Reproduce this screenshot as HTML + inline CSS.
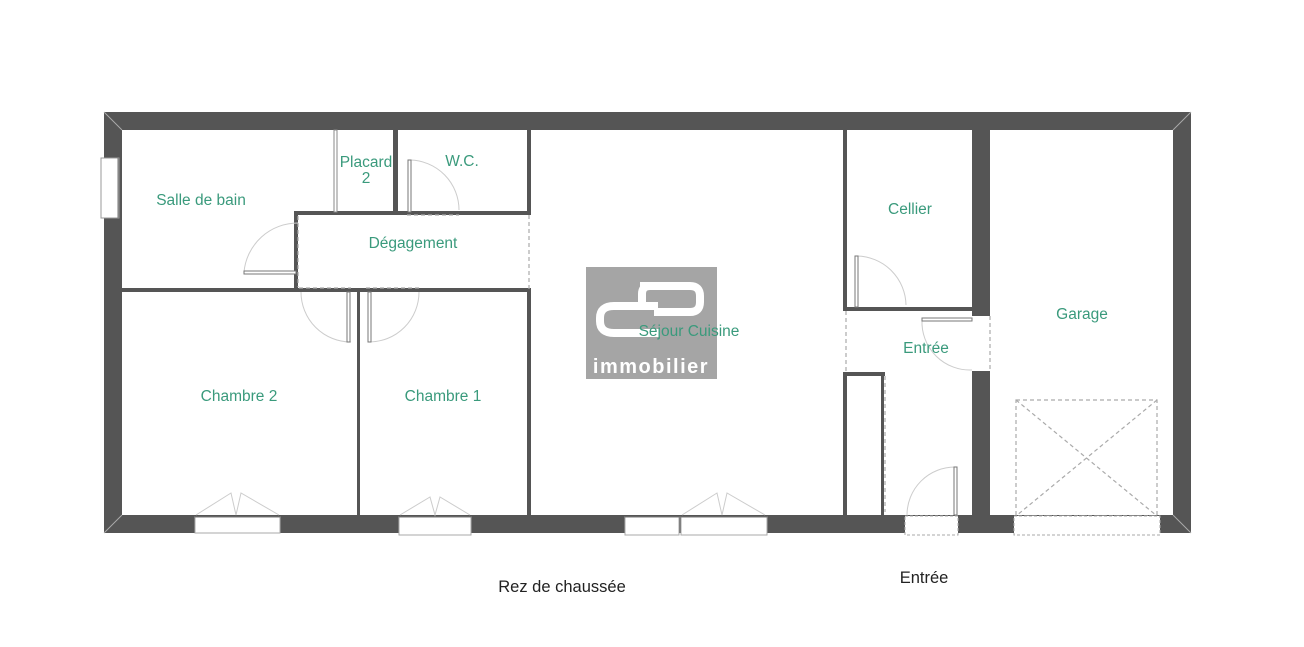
<!DOCTYPE html>
<html><head><meta charset="utf-8"><style>
html,body{margin:0;padding:0;background:#fff;}
svg{display:block;}
text{font-family:"Liberation Sans",Arial,sans-serif;}
</style></head><body>
<svg width="1304" height="647" viewBox="0 0 1304 647" xmlns="http://www.w3.org/2000/svg">
<path d="M104,112 H1191 V533 H104 Z M122,130 V515 H1173 V130 Z" fill="#555" fill-rule="evenodd"/>
<g stroke="#aaa" stroke-width="1" fill="none">
<line x1="104" y1="112" x2="122" y2="130"/><line x1="1191" y1="112" x2="1173" y2="130"/>
<line x1="104" y1="533" x2="122" y2="515"/><line x1="1191" y1="533" x2="1173" y2="515"/>
</g>
<g fill="#555">
<rect x="393" y="130" width="5" height="84"/>
<rect x="527" y="130" width="4" height="84"/>
<rect x="527" y="289" width="4" height="226"/>
<rect x="294" y="211" width="237" height="4"/>
<rect x="294" y="211" width="4" height="81"/>
<rect x="122" y="288" width="409" height="4"/>
<rect x="357" y="288" width="3" height="227"/>
<rect x="843" y="130" width="4" height="181"/>
<rect x="843" y="307" width="129" height="4"/>
<rect x="972" y="130" width="18" height="186"/>
<rect x="972" y="371" width="18" height="144"/>
<rect x="843" y="372" width="42" height="4"/>
<rect x="843" y="372" width="4" height="143"/>
<rect x="881" y="372" width="3" height="143"/>
</g>
<rect x="334" y="130" width="3" height="82" fill="#fff" stroke="#888" stroke-width="1"/>
<g stroke="#aaa" stroke-width="1.2" stroke-dasharray="4,3" fill="none">
<line x1="529" y1="215" x2="529" y2="289"/>
<line x1="846" y1="311" x2="846" y2="372"/>
<line x1="298" y1="216" x2="298" y2="287"/>
<line x1="299" y1="288" x2="351" y2="288"/>
<line x1="366" y1="288" x2="419" y2="288"/>
<line x1="407" y1="215" x2="459" y2="215"/>
<line x1="885" y1="376" x2="885" y2="512"/>
<line x1="990" y1="316" x2="990" y2="371"/>
<rect x="1016" y="400" width="141" height="116"/>
<line x1="1016" y1="400" x2="1157" y2="516"/><line x1="1157" y1="400" x2="1016" y2="516"/>
</g>
<g stroke="#ccc" stroke-width="1" fill="none">
<path d="M298,223 A54,54 0 0 0 244,272"/>
<path d="M301,292 A50,50 0 0 0 351,342"/>
<path d="M419,292 A50,50 0 0 1 369,342"/>
<path d="M410,160 A50,50 0 0 1 459,210"/>
<path d="M857,256 A50,50 0 0 1 906,305"/>
<path d="M922,320 A48,48 0 0 0 972,370"/>
<path d="M955,467 A48,48 0 0 0 907,515"/>
</g>
<g fill="#fff" stroke="#777" stroke-width="1">
<rect x="244" y="271" width="52" height="3"/>
<rect x="347" y="292" width="3" height="50"/>
<rect x="368" y="292" width="3" height="50"/>
<rect x="408" y="160" width="3" height="52"/>
<rect x="855" y="256" width="3" height="51"/>
<rect x="922" y="318" width="50" height="3"/>
<rect x="954" y="467" width="3" height="48"/>
</g>
<rect x="101" y="158" width="18" height="60" fill="#fff" stroke="#999" stroke-width="1"/>
<line x1="118" y1="158" x2="118" y2="218" stroke="#777"/>
<g fill="#fff" stroke="#aaa" stroke-width="1">
<rect x="195" y="517" width="85" height="16"/>
<rect x="399" y="517" width="72" height="18"/>
<rect x="625" y="517" width="54" height="18"/>
<rect x="681" y="517" width="86" height="18"/>
<rect x="905" y="516" width="53" height="19" stroke-dasharray="3,2"/>
<rect x="1014" y="516" width="146" height="19" stroke-dasharray="3,2"/>
</g>
<g stroke="#777" stroke-width="1">
<line x1="195" y1="517" x2="280" y2="517"/><line x1="399" y1="517" x2="471" y2="517"/>
<line x1="625" y1="517" x2="679" y2="517"/><line x1="681" y1="517" x2="767" y2="517"/>
</g>
<g stroke="#ccc" stroke-width="1" fill="none">
<polyline points="196,515 231,493 236,515 241,493 279,515"/>
<polyline points="400,515 430,497 435,515 440,497 470,515"/>
<polyline points="682,515 717,493 722,515 727,493 765,515"/>
</g>
<rect x="586" y="267" width="131" height="112" fill="#a5a5a5"/>
<g fill="none" stroke="#fff" stroke-width="8" stroke-linejoin="round">
<path d="M658,306 H614 Q600,306 600,318 V321 Q600,333 614,333 H660"/>
<path d="M642,304 V294 Q642,286 650,286"/>
<path d="M640,286 H690 Q700,286 700,296 V302 Q700,312 690,312 H654"/>
</g>
<text x="651" y="373" font-size="20" font-weight="bold" fill="#fff" text-anchor="middle" letter-spacing="1.5">immobilier</text>
<g fill="#3a9a7c" font-size="15.5" text-anchor="middle">
<text x="201" y="205">Salle de bain</text>
<text x="366" y="167">Placard</text>
<text x="366" y="183">2</text>
<text x="462" y="166">W.C.</text>
<text x="413" y="248">Dégagement</text>
<text x="689" y="336">Séjour Cuisine</text>
<text x="910" y="214">Cellier</text>
<text x="926" y="353">Entrée</text>
<text x="1082" y="319">Garage</text>
<text x="239" y="401">Chambre 2</text>
<text x="443" y="401">Chambre 1</text>
</g>
<text x="562" y="592" font-size="16.5" fill="#222" text-anchor="middle">Rez de chaussée</text>
<text x="924" y="583" font-size="16.5" fill="#222" text-anchor="middle">Entrée</text>
</svg>
</body></html>
